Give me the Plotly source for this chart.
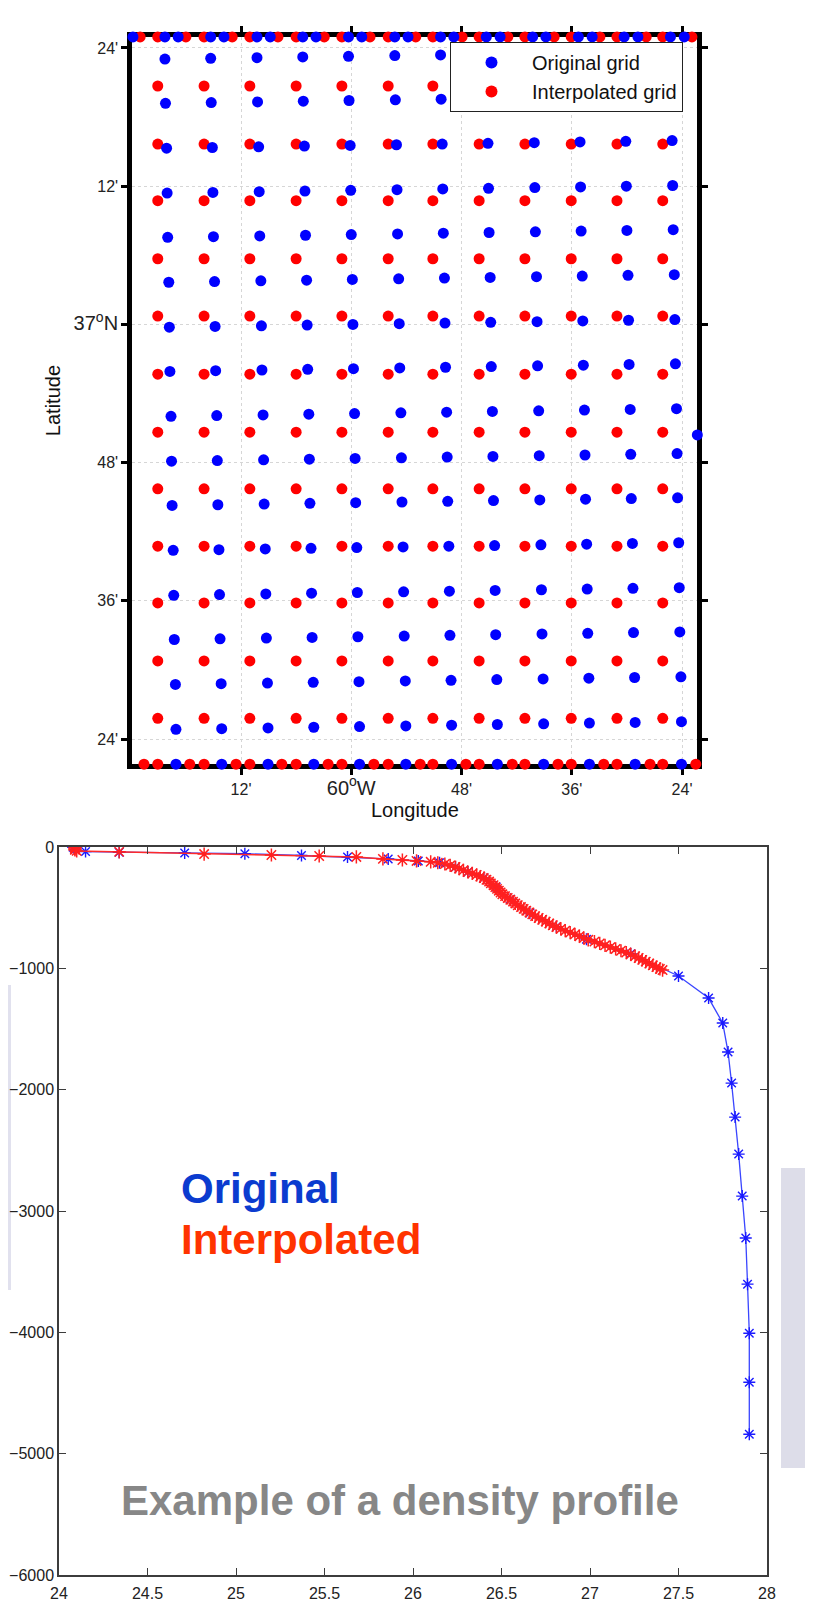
import plotly.graph_objects as go

# ---------------- Top panel: grids (lon in degrees E, negative = W) ----------------
red_lon = [-60.351, -60.267, -60.184, -60.100, -60.017, -59.933, -59.852, -59.768, -59.685, -59.601, -59.518, -59.435]
red_lat = [37.345, 37.261, 37.179, 37.095, 37.012, 36.928, 36.844, 36.762, 36.679, 36.597, 36.513, 36.430]

blue_col_lon = [-60.338, -60.255, -60.171, -60.088, -60.005, -59.921, -59.838, -59.755, -59.671, -59.588, -59.505, -59.421]
blue_row_lat = [37.384, 37.320, 37.255, 37.190, 37.126, 37.061, 36.996, 36.932, 36.867, 36.802, 36.738, 36.673,
                36.608, 36.544, 36.479, 36.414]
blue_row_lon_shift = [0.000, 0.001, 0.003, 0.004, 0.005, 0.007, 0.008, 0.009, 0.011, 0.012, 0.013, 0.015,
                      0.016, 0.017, 0.019, 0.020]
blue_col_lat_shift = [0.000, 0.001, 0.002, 0.003, 0.004, 0.005, 0.006, 0.007, 0.008, 0.009, 0.010, 0.011]

# points lying on the map frame (clamped to the border)
top_border_lat = 37.4160
bottom_border_lat = 36.3636
top_red_lon = [-60.383, -60.300, -60.216, -60.133, -60.049, -59.966, -59.883, -59.799, -59.716, -59.632,
               -59.549, -59.465, -59.382,
               -60.351, -60.267, -60.184, -60.100, -60.017, -59.933, -59.852, -59.768, -59.685, -59.601,
               -59.518, -59.435]
top_blue_lon = [-60.396, -60.314, -60.231, -60.147, -60.064, -59.981, -59.897, -59.814, -59.730, -59.647,
                -59.563, -59.480, -59.396,
                -60.338, -60.255, -60.171, -60.088, -60.005, -59.921, -59.838, -59.755, -59.671, -59.588,
                -59.505, -59.421]
bottom_red_lon = [-60.376, -60.293, -60.209, -60.126, -60.042, -59.959, -59.875, -59.792, -59.708, -59.625,
                  -59.542, -59.458, -59.375,
                  -60.351, -60.267, -60.184, -60.100, -60.017, -59.933, -59.852, -59.768, -59.685, -59.601,
                  -59.518, -59.435]
bottom_blue_lon = [-60.318, -60.235, -60.151, -60.068, -59.985, -59.901, -59.818, -59.735, -59.651, -59.568,
                   -59.485, -59.401]
right_blue_lon = [-59.3722]
right_blue_lat = [36.840]

lon_tickvals = [-60.2, -60.0, -59.8, -59.6, -59.4]
lon_ticktext = ["12'", "<span style='font-size:20px'>60<sup>o</sup>W</span>", "48'", "36'", "24'"]
lat_tickvals = [36.4, 36.6, 36.8, 37.0, 37.2, 37.4]
lat_ticktext = ["24'", "36'", "48'", "<span style='font-size:20px'>37<sup>o</sup>N</span>", "12'", "24'"]

# ---------------- Bottom panel: density profile ----------------
dens_orig = [24.08, 24.15, 24.34, 24.71, 25.05, 25.37, 25.63, 25.86, 26.03, 26.15, 26.24, 26.31, 26.40,
             26.47, 26.55, 26.66, 26.81, 26.98, 27.23, 27.50, 27.67, 27.75, 27.78, 27.80, 27.82, 27.84,
             27.86, 27.88, 27.89, 27.90, 27.90, 27.90]
depth_orig = [-3, -38, -43, -49, -55, -70, -82, -98, -115, -129, -165, -206, -256, -330, -430, -545, -657,
              -760, -880, -1063, -1245, -1451, -1690, -1946, -2226, -2531, -2877, -3223, -3603, -4007,
              -4411, -4840]

dens_interp = [24.09, 24.09, 24.09, 24.09, 24.10, 24.34, 24.82, 25.20, 25.47, 25.68, 25.83, 25.94,
               26.02, 26.10, 26.14, 26.18, 26.21, 26.24, 26.26, 26.285, 26.31, 26.335, 26.36, 26.38,
               26.40, 26.415, 26.43, 26.44, 26.455, 26.465, 26.475, 26.485, 26.495, 26.505, 26.52, 26.535,
               26.55, 26.565, 26.578, 26.592, 26.61, 26.625, 26.64, 26.658, 26.674, 26.69, 26.71, 26.73,
               26.75, 26.77, 26.79, 26.81, 26.835, 26.86, 26.888, 26.915, 26.94, 26.965, 26.99, 27.025,
               27.055, 27.085, 27.115, 27.145, 27.175, 27.205, 27.23, 27.255, 27.275, 27.295, 27.315,
               27.335, 27.355, 27.375, 27.395, 27.41]
depth_interp = [0, -8, -16, -24, -32, -40, -58, -66, -74, -82, -98, -107,
                -115, -122, -130, -140, -152, -165, -178, -192, -206, -218, -230, -243,
                -256, -270, -285, -300, -315, -330, -345, -360, -375, -390, -405, -420,
                -435, -450, -465, -480, -495, -510, -525, -540, -555, -570, -585, -600,
                -615, -630, -645, -660, -675, -690, -705, -720, -735, -750, -765, -780,
                -795, -810, -825, -840, -855, -870, -885, -900, -915, -930, -945,
                -960, -975, -990, -1005, -1014]

dens_ticks = [24, 24.5, 25, 25.5, 26, 26.5, 27, 27.5, 28]
depth_ticks = [0, -1000, -2000, -3000, -4000, -5000, -6000]

# ---------------- build ----------------
# the page body has an 8px margin, so the figure is sized to fit the window after it
OFF = 8
W, H = 813 - OFF, 1603 - OFF
FONT = "Liberation Sans, Arial, Helvetica, sans-serif"
BLUE = "#0000ff"
RED = "#ff0000"


def px_x(p):
    return (p - OFF) / W


def px_y(p):
    return 1 - (p - OFF) / H


red_x, red_y = [], []
for la in red_lat:
    for lo in red_lon:
        red_x.append(lo)
        red_y.append(la)

blue_x, blue_y = [], []
for i, la in enumerate(blue_row_lat):
    for j, lo in enumerate(blue_col_lon):
        blue_x.append(lo + blue_row_lon_shift[i])
        blue_y.append(la + blue_col_lat_shift[j])

fig = go.Figure()
mk = dict(size=11, line=dict(width=0))

fig.add_trace(go.Scatter(x=red_x, y=red_y, mode="markers", name="Interpolated grid",
                         marker=dict(color=RED, **mk), legendrank=2, legendgroup="r",
                         xaxis="x", yaxis="y"))
fig.add_trace(go.Scatter(x=top_red_lon + bottom_red_lon,
                         y=[top_border_lat] * len(top_red_lon) + [bottom_border_lat] * len(bottom_red_lon),
                         mode="markers", marker=dict(color=RED, **mk), showlegend=False,
                         legendgroup="r", cliponaxis=False, xaxis="x", yaxis="y"))
fig.add_trace(go.Scatter(x=blue_x, y=blue_y, mode="markers", name="Original grid",
                         marker=dict(color=BLUE, **mk), legendrank=1, legendgroup="b",
                         xaxis="x", yaxis="y"))
fig.add_trace(go.Scatter(x=top_blue_lon + bottom_blue_lon + right_blue_lon,
                         y=[top_border_lat] * len(top_blue_lon) + [bottom_border_lat] * len(bottom_blue_lon)
                         + right_blue_lat,
                         mode="markers", marker=dict(color=BLUE, **mk), showlegend=False,
                         legendgroup="b", cliponaxis=False, xaxis="x", yaxis="y"))

# bottom panel
fig.add_trace(go.Scatter(x=dens_orig, y=depth_orig, mode="lines+markers", showlegend=False,
                         line=dict(color="#3a46ff", width=1.3),
                         marker=dict(symbol="asterisk-open", size=10, color="#1a1aff",
                                     line=dict(color="#1a1aff", width=1.4)),
                         xaxis="x2", yaxis="y2"))
fig.add_trace(go.Scatter(x=dens_interp, y=depth_interp, mode="lines+markers", showlegend=False,
                         line=dict(color="#ff2a2a", width=1.5),
                         marker=dict(symbol="asterisk-open", size=11, color="#ff2020",
                                     line=dict(color="rgba(255,30,30,0.85)", width=1.5)),
                         xaxis="x2", yaxis="y2"))

map_ax = dict(showline=True, linecolor="black", linewidth=5, mirror="ticks",
              ticks="outside", ticklen=6, tickwidth=3, tickcolor="black",
              showgrid=True, gridcolor="#d6d6d6", griddash="dot", gridwidth=1,
              zeroline=False, layer="below traces", automargin=False,
              tickfont=dict(family=FONT, size=16, color="#222222"))

prof_ax = dict(showline=True, linecolor="#3c3c3c", linewidth=1.5, mirror="ticks",
               ticks="inside", ticklen=7, tickwidth=1.3, tickcolor="#3c3c3c",
               showgrid=False, zeroline=False, automargin=False,
               tickfont=dict(family=FONT, size=16, color="#222222"))

fig.update_layout(
    width=W, height=H, autosize=False,
    margin=dict(l=0, r=0, t=0, b=0, pad=0, autoexpand=False),
    paper_bgcolor="white", plot_bgcolor="white",
    font=dict(family=FONT, color="#222222"),
    xaxis=dict(domain=[px_x(132.3), px_x(697.4)], range=[-60.3972, -59.3721], anchor="y",
               tickmode="array", tickvals=lon_tickvals, ticktext=lon_ticktext,
               title=dict(text="Longitude", font=dict(family=FONT, size=20, color="#111111"),
                          standoff=2),
               **map_ax),
    yaxis=dict(domain=[px_y(764.3), px_y(36.8)], range=[36.3634, 37.4162], anchor="x",
               tickmode="array", tickvals=lat_tickvals, ticktext=lat_ticktext,
               title=dict(text="Latitude", font=dict(family=FONT, size=20, color="#111111"),
                          standoff=9),
               **map_ax),
    xaxis2=dict(domain=[px_x(59), px_x(767)], range=[24, 28], anchor="y2",
                tickmode="array", tickvals=dens_ticks, ticklabelstandoff=3, **prof_ax),
    yaxis2=dict(domain=[px_y(1575), px_y(847)], range=[-6000, 0], anchor="x2",
                tickmode="array", tickvals=depth_ticks, ticklabelstandoff=0, **prof_ax),
    legend=dict(x=px_x(450), y=px_y(42), xanchor="left", yanchor="top",
                bgcolor="white", bordercolor="#222222", borderwidth=1,
                font=dict(family=FONT, size=20, color="#111111"),
                itemsizing="constant", itemwidth=71, tracegroupgap=0),
    shapes=[
        dict(type="rect", xref="paper", yref="paper", x0=0, x1=px_x(11), y0=px_y(1290), y1=px_y(985),
             fillcolor="#e1e1ee", line=dict(width=0), layer="below"),
        dict(type="rect", xref="paper", yref="paper", x0=px_x(781), x1=1, y0=px_y(1468), y1=px_y(1168),
             fillcolor="#dddde9", line=dict(width=0), layer="below"),
    ],
    annotations=[
        dict(text="<b>Original</b>", x=px_x(179), y=px_y(1188), xref="paper", yref="paper",
             xanchor="left", yanchor="middle", showarrow=False,
             font=dict(family=FONT, size=42, color="#0b3bcf")),
        dict(text="<b>Interpolated</b>", x=px_x(179), y=px_y(1239), xref="paper", yref="paper",
             xanchor="left", yanchor="middle", showarrow=False,
             font=dict(family=FONT, size=42, color="#ff3300")),
        dict(text="<b>Example of a density profile</b>", x=px_x(119), y=px_y(1500), xref="paper",
             yref="paper", xanchor="left", yanchor="middle", showarrow=False,
             font=dict(family=FONT, size=42, color="#878787")),
    ],
)

fig.write_html("out.html")
